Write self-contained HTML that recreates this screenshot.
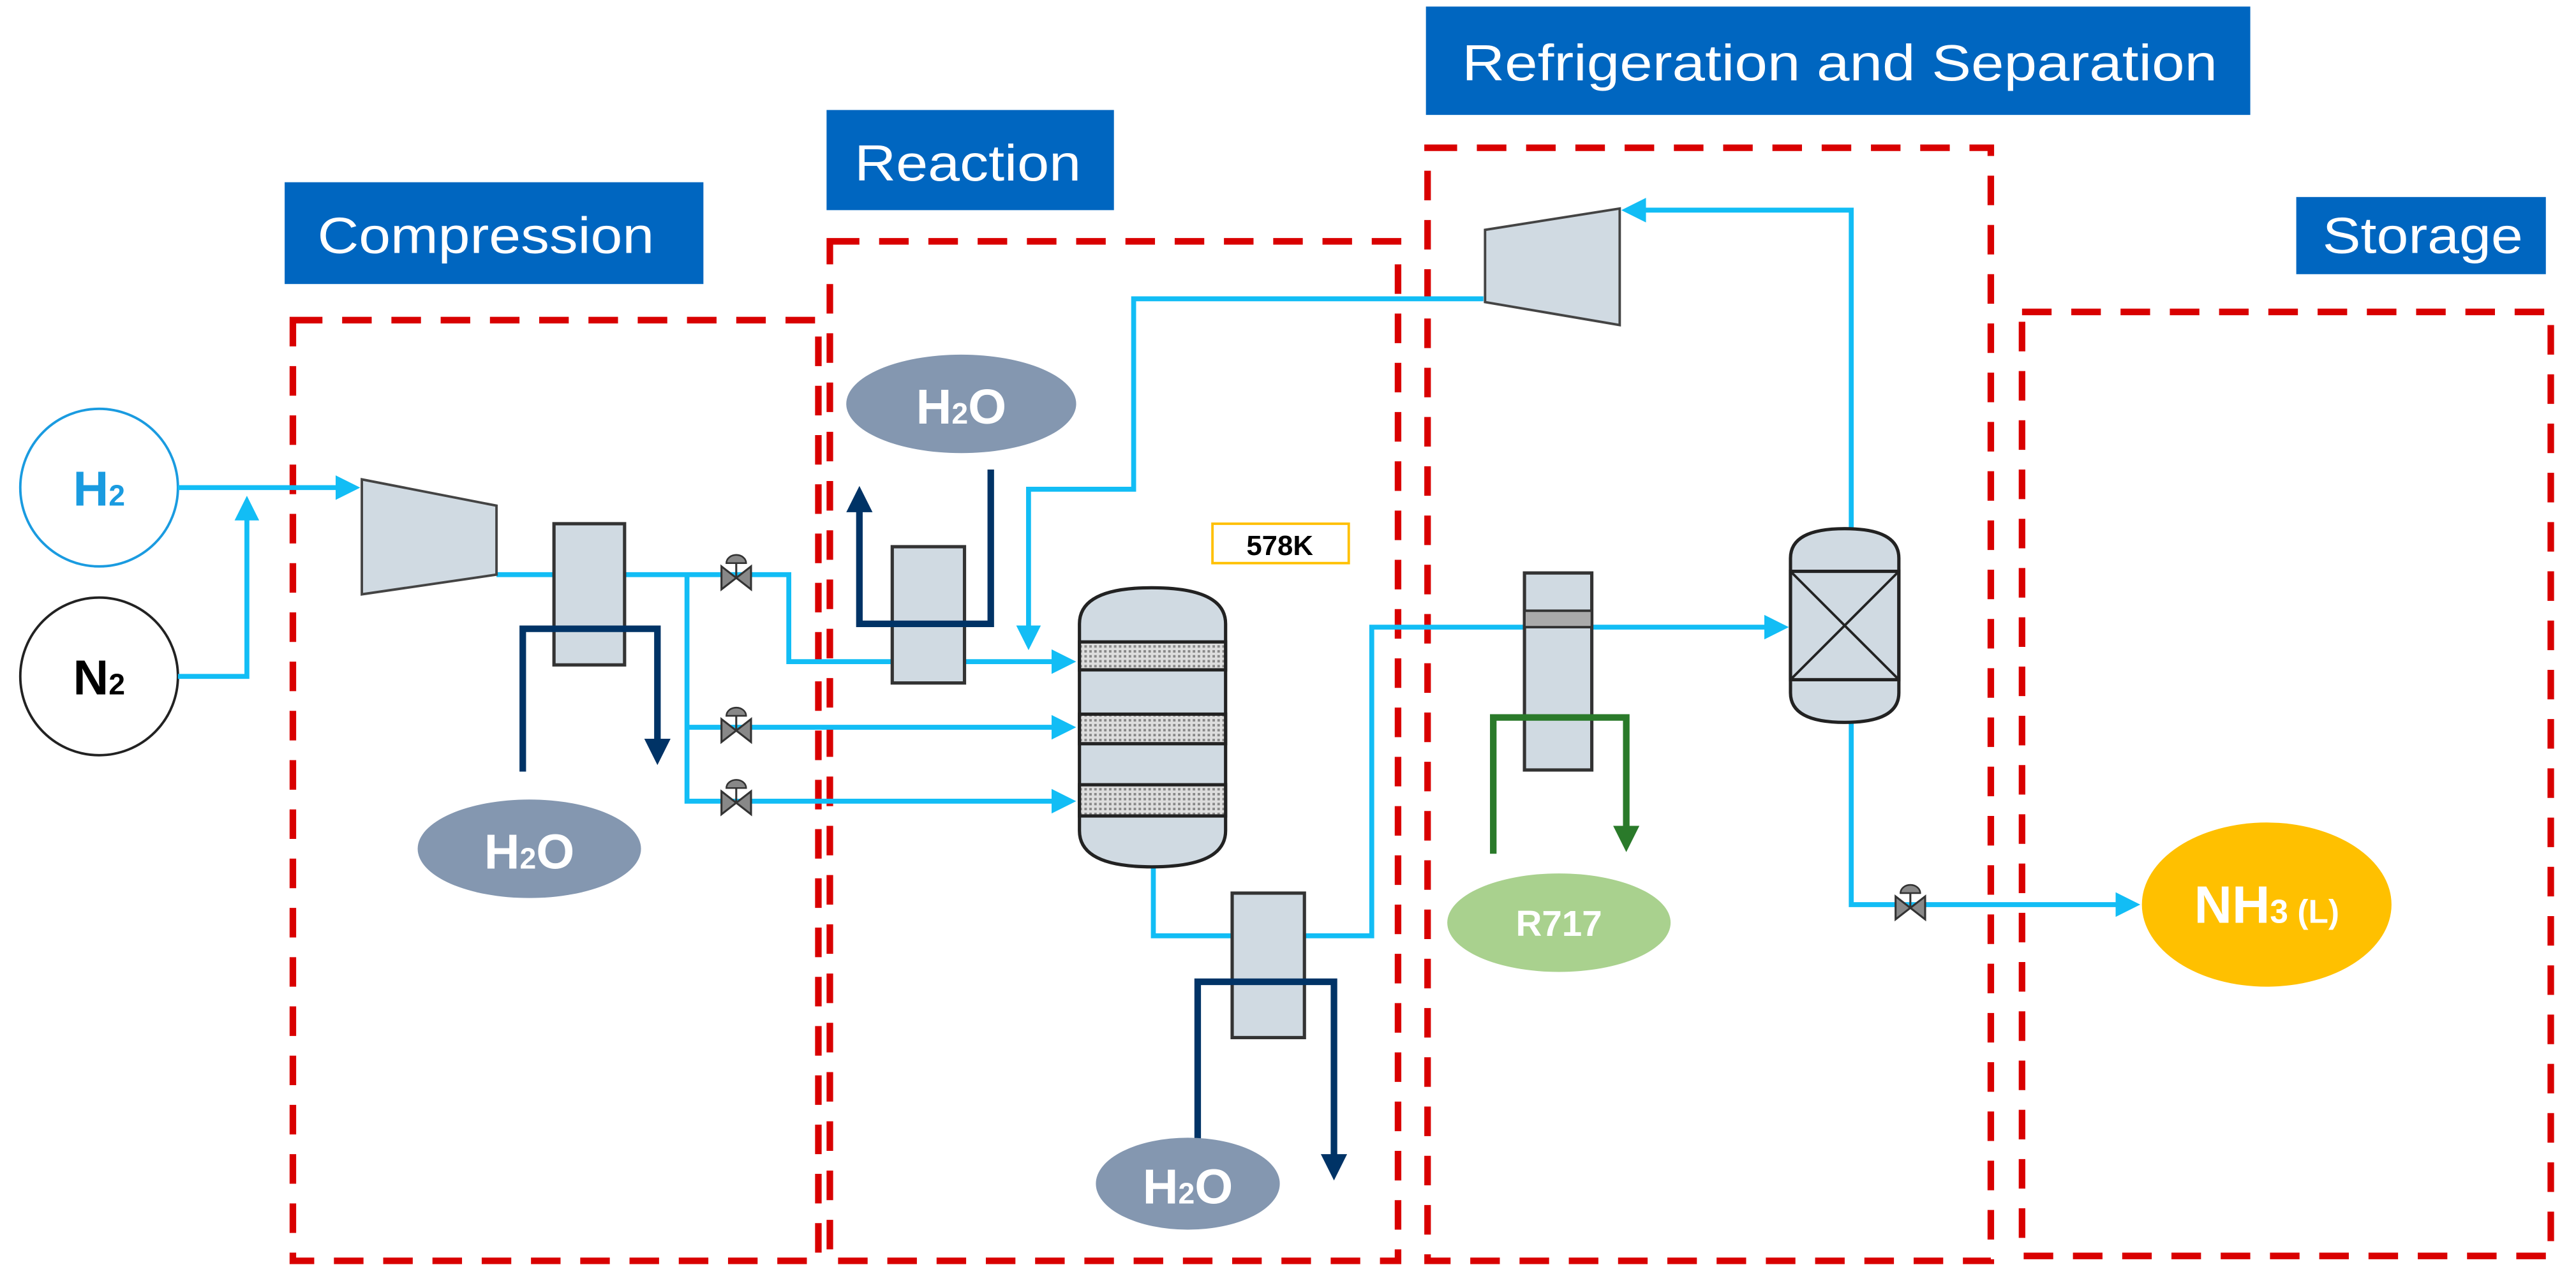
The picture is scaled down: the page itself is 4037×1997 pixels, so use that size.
<!DOCTYPE html>
<html><head><meta charset="utf-8"><style>html,body{margin:0;padding:0;background:#fff}svg{display:block}</style></head>
<body>
<svg width="4037" height="1997" viewBox="0 0 1568 776" xmlns="http://www.w3.org/2000/svg" font-family="Liberation Sans, sans-serif">
<defs>
<marker id="ab" markerWidth="5" markerHeight="5" refX="4" refY="2.5" orient="auto" markerUnits="strokeWidth"><path d="M0,0 L5,2.5 L0,5z" fill="#12bdf5"/></marker>
<marker id="ad" markerWidth="4" markerHeight="4" refX="3" refY="2" orient="auto" markerUnits="strokeWidth"><path d="M0,0 L4,2 L0,4z" fill="#003366"/></marker>
<marker id="ag" markerWidth="4" markerHeight="4" refX="3" refY="2" orient="auto" markerUnits="strokeWidth"><path d="M0,0 L4,2 L0,4z" fill="#2a7a2a"/></marker>
<pattern id="mesh" width="3" height="3" patternUnits="userSpaceOnUse"><rect width="3" height="3" fill="#ddd"/><rect width="1.5" height="1.5" fill="#888"/></pattern>
<g id="valve"><path d="M-9,-7 L9,7 L9,-7 L-9,7z" fill="#888" stroke="#333" stroke-width="1.2"/><line x1="0" y1="0" x2="0" y2="-9" stroke="#333" stroke-width="1.2"/><path d="M-6,-9 a6,5 0 0 1 12,0z" fill="#888" stroke="#333" stroke-width="1"/></g>
</defs>
<g fill="#0066c0">
<rect x="173" y="111" width="255" height="62"/>
<rect x="503" y="67" width="175" height="61"/>
<rect x="868" y="4" width="502" height="66"/>
<rect x="1398" y="120" width="152" height="47"/>
</g>
<g fill="#fff" font-size="31">
<text x="193" y="154" textLength="205" lengthAdjust="spacingAndGlyphs">Compression</text>
<text x="520" y="110" textLength="138" lengthAdjust="spacingAndGlyphs">Reaction</text>
<text x="890" y="49" textLength="460" lengthAdjust="spacingAndGlyphs">Refrigeration and Separation</text>
<text x="1414" y="154" textLength="122" lengthAdjust="spacingAndGlyphs">Storage</text>
</g>
<g fill="none" stroke="#d90000" stroke-width="4" stroke-dasharray="18,12">
<rect x="178" y="195" width="320" height="573"/>
<rect x="505" y="147" width="346" height="621"/>
<rect x="869" y="90" width="343" height="678"/>
<rect x="1231" y="190" width="322" height="575"/>
</g>
<circle cx="60" cy="297" r="48" fill="#fff" stroke="#1a9be0" stroke-width="1.5"/>
<circle cx="60" cy="412" r="48" fill="#fff" stroke="#222" stroke-width="1.5"/>
<text x="60" y="308" font-size="30" fill="#1a9be0" text-anchor="middle" font-weight="bold">H<tspan font-size="18">2</tspan></text>
<text x="60" y="423" font-size="30" fill="#000" text-anchor="middle" font-weight="bold">N<tspan font-size="18">2</tspan></text>
<g fill="none" stroke="#12bdf5" stroke-width="3">
<path d="M108,297 H216" marker-end="url(#ab)"/>
<path d="M108,412 H150 V305" marker-end="url(#ab)"/>
<path d="M302,350 H480 V403 H652" marker-end="url(#ab)"/>
<path d="M418,350 V488 H652" marker-end="url(#ab)"/>
<path d="M418,443 H652" marker-end="url(#ab)"/>
<path d="M903,182 H690 V298 H626 V393" marker-end="url(#ab)"/>
<path d="M702,528 V570 H835 V382 H1086" marker-end="url(#ab)"/>
<path d="M1127,322 V128 H990" marker-end="url(#ab)"/>
<path d="M1127,440 V551 H1300" marker-end="url(#ab)"/>
</g>
<path d="M220,292 L302,308 L302,350 L220,362z" fill="#d0dae2" stroke="#444" stroke-width="1.5"/>
<path d="M904,140 L986,127 L986,198 L904,184z" fill="#d0dae2" stroke="#444" stroke-width="1.5"/>
<use href="#valve" x="448" y="352"/>
<use href="#valve" x="448" y="445"/>
<use href="#valve" x="448" y="489"/>
<use href="#valve" x="1163" y="553"/>
<rect x="337" y="319" width="43" height="86" fill="#d0dae2" stroke="#333" stroke-width="2"/>
<path d="M318,470 V383 H400 V462" fill="none" stroke="#003366" stroke-width="4" marker-end="url(#ad)"/>
<rect x="543" y="333" width="44" height="83" fill="#d0dae2" stroke="#333" stroke-width="2"/>
<path d="M603,286 V380 H523 V300" fill="none" stroke="#003366" stroke-width="4" marker-end="url(#ad)"/>
<rect x="750" y="544" width="44" height="88" fill="#d0dae2" stroke="#333" stroke-width="2"/>
<path d="M729,720 V598 H812 V715" fill="none" stroke="#003366" stroke-width="4" marker-end="url(#ad)"/>
<path d="M657,380 Q657,358 701,358 Q746,358 746,380 V506 Q746,528 701,528 Q657,528 657,506z" fill="#d0dae2" stroke="#222" stroke-width="2"/>
<g stroke="#222" stroke-width="2" fill="url(#mesh)">
<rect x="657" y="391" width="89" height="17"/>
<rect x="657" y="435" width="89" height="18"/>
<rect x="657" y="478" width="89" height="19"/>
</g>
<rect x="738" y="319" width="83" height="24" fill="#fff" stroke="#ffc000" stroke-width="1.5"/>
<text x="779" y="338" font-size="17" font-weight="bold" text-anchor="middle">578K</text>
<rect x="928" y="349" width="41" height="120" fill="#d0dae2" stroke="#333" stroke-width="2"/>
<rect x="928" y="372" width="41" height="10" fill="#aaa" stroke="#333" stroke-width="1.5"/>
<path d="M909,520 V437 H990 V515" fill="none" stroke="#2a7a2a" stroke-width="4" marker-end="url(#ag)"/>
<path d="M1090,340 Q1090,322 1123,322 Q1156,322 1156,340 V422 Q1156,440 1123,440 Q1090,440 1090,422z" fill="#d0dae2" stroke="#222" stroke-width="2"/>
<rect x="1090" y="348" width="66" height="66" fill="none" stroke="#222" stroke-width="2"/>
<path d="M1090,348 L1156,414 M1156,348 L1090,414" stroke="#222" stroke-width="1.5"/>
<ellipse cx="322" cy="517" rx="68" ry="30" fill="#8497b0"/>
<ellipse cx="585" cy="246" rx="70" ry="30" fill="#8497b0"/>
<ellipse cx="723" cy="721" rx="56" ry="28" fill="#8497b0"/>
<ellipse cx="949" cy="562" rx="68" ry="30" fill="#a9d18e"/>
<ellipse cx="1380" cy="551" rx="76" ry="50" fill="#ffc000"/>
<g fill="#fff" font-weight="bold" text-anchor="middle">
<text x="322" y="529" font-size="30">H<tspan font-size="18">2</tspan>O</text>
<text x="585" y="258" font-size="30">H<tspan font-size="18">2</tspan>O</text>
<text x="723" y="733" font-size="30">H<tspan font-size="18">2</tspan>O</text>
<text x="949" y="570" font-size="22">R717</text>
<text x="1380" y="562" font-size="32">NH<tspan font-size="20">3 (L)</tspan></text>
</g>
</svg>
</body></html>
